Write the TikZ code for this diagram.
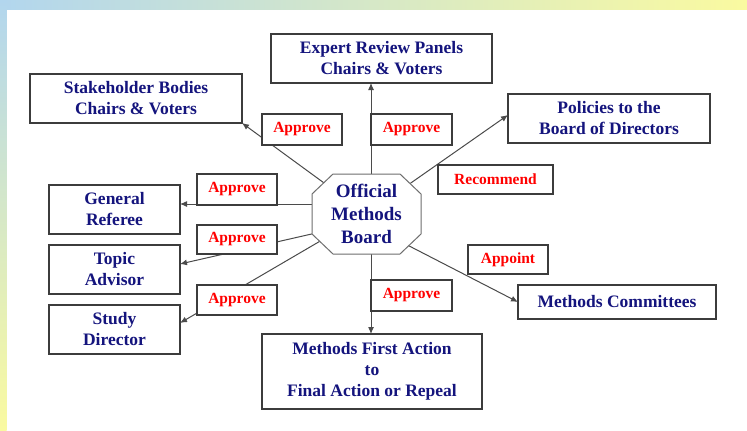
\documentclass[tikz,border=0pt]{standalone}
\usepackage{fontspec}
\setmainfont{Liberation Serif}
\usetikzlibrary{arrows.meta}
\definecolor{navytext}{RGB}{20,20,125}
\definecolor{boxline}{RGB}{60,60,60}
\definecolor{conncolor}{RGB}{75,75,75}
\definecolor{octline}{RGB}{110,110,110}
\definecolor{bgblue}{RGB}{178,214,238}
\definecolor{bgyellow}{RGB}{250,250,160}
\begin{document}
\begin{tikzpicture}[x=1pt,y=-1pt,
  box/.style={draw=boxline, line width=1.3pt, fill=white, inner sep=0pt, outer sep=0pt,
    align=center, text=navytext, font=\bfseries\fontsize{17.5}{21}\selectfont},
  lbl/.style={draw=boxline, line width=1.3pt, fill=white, inner sep=0pt, outer sep=0pt,
    text=red, font=\bfseries\fontsize{15.5}{18}\selectfont},
  octtext/.style={align=center, inner sep=0pt, text=navytext, font=\bfseries\fontsize{19}{23}\selectfont},
  octframe/.style={draw=octline, line width=1pt, fill=white},
  connector/.style={draw=conncolor, line width=1pt, -{Latex[length=7pt,width=6pt]}},
  ]
\useasboundingbox (0,0) rectangle (747,431);
% background
\fill[white] (0,0) rectangle (747,431);
\shade[left color=bgblue, right color=bgyellow] (0,0) rectangle (747,9.5);
\shade[top color=bgblue, bottom color=bgyellow] (0,0) rectangle (6.5,431);

% boxes
\node[box, minimum width=221pt, minimum height=49pt] (epr) at (381.5,58.5) {Expert Review Panels\\Chairs \& Voters};
\node[box, minimum width=212pt, minimum height=49pt] (sb) at (136,98.5) {Stakeholder Bodies\\Chairs \& Voters};
\node[box, minimum width=202pt, minimum height=49pt] (pol) at (609,118.5) {Policies to the\\Board of Directors};
\node[box, minimum width=131pt, minimum height=49pt] (gr) at (114.5,209.5) {General\\Referee};
\node[box, minimum width=131pt, minimum height=49pt] (ta) at (114.5,269.5) {Topic\\Advisor};
\node[box, minimum width=131pt, minimum height=49pt] (sd) at (114.5,329.5) {Study\\Director};
\node[box, minimum width=198pt, minimum height=34pt] (mc) at (617,302) {Methods Committees};
\node[box, minimum width=220pt, minimum height=75pt] (mfa) at (372,371.5) {Methods First Action\\to\\Final Action or Repeal};

% central node (frame drawn below, over the connector starts)
\node[inner sep=0pt, outer sep=0pt, minimum width=109pt, minimum height=80pt] (omb) at (366.5,214) {};

% connectors
\draw[connector] ([xshift=4.5pt]omb.center) -- ([xshift=-10.5pt]epr.south);
\draw[connector] (omb.center) -- (sb.south east);
\draw[connector] (omb.center) -- ([yshift=3.5pt]pol.west);
\draw[connector] ([yshift=10pt]omb.center) -- ([yshift=5.5pt]gr.east);
\draw[connector] ([yshift=-7.5pt]omb.center) -- ([yshift=5.5pt]ta.east);
\draw[connector] (omb.center) -- ([yshift=6.5pt]sd.east);
\draw[connector] ([yshift=-10pt]omb.center) -- (mc.west);
\draw[connector] ([xshift=4.5pt]omb.center) -- ([xshift=-1pt]mfa.north);

% octagon frame
\path[octframe] ([xshift=21pt]omb.north west) -- ([xshift=-21pt]omb.north east)
  -- ([yshift=-20pt]omb.north east) -- ([yshift=20pt]omb.south east)
  -- ([xshift=-21pt]omb.south east) -- ([xshift=21pt]omb.south west)
  -- ([yshift=20pt]omb.south west) -- ([yshift=-20pt]omb.north west) -- cycle;
\node[octtext] (ombtext) at (omb.center) {Official\\Methods\\Board};

% labels
\node[lbl, minimum width=80pt, minimum height=31pt] (l1) at (302,129.5) {Approve};
\node[lbl, minimum width=81pt, minimum height=31pt] (l2) at (411.5,129.5) {Approve};
\node[lbl, minimum width=115pt, minimum height=29pt] (l3) at (495.5,179.5) {Recommend};
\node[lbl, minimum width=80pt, minimum height=31pt] (l4) at (237,189.5) {Approve};
\node[lbl, minimum width=80pt, minimum height=29pt] (l5) at (237,239.5) {Approve};
\node[lbl, minimum width=80pt, minimum height=30pt] (l6) at (237,300) {Approve};
\node[lbl, minimum width=80pt, minimum height=29pt] (l7) at (508,259.5) {Appoint};
\node[lbl, minimum width=81pt, minimum height=31pt] (l8) at (411.5,295.5) {Approve};
\end{tikzpicture}
\end{document}
